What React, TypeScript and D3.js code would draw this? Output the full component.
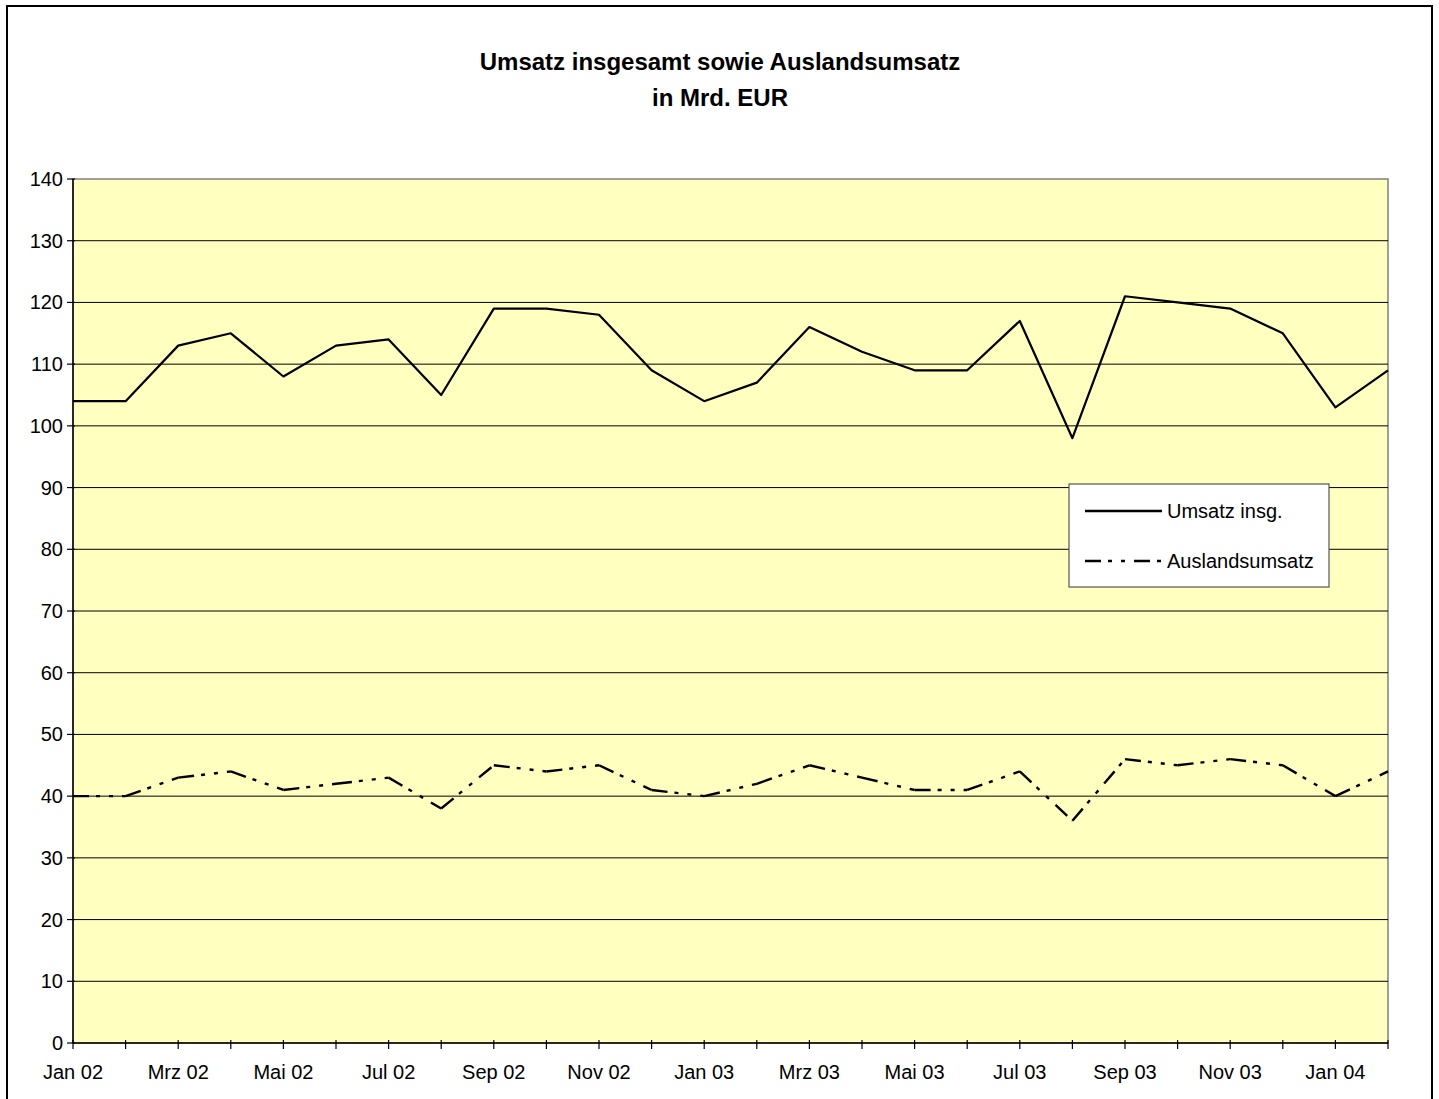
import { useMemo } from 'react';
import * as d3 from 'd3';

// Monthly values, Jan 02 .. Feb 04
const months = [
	'Jan 02', 'Feb 02', 'Mrz 02', 'Apr 02', 'Mai 02', 'Jun 02', 'Jul 02', 'Aug 02', 'Sep 02', 'Okt 02', 'Nov 02', 'Dez 02',
	'Jan 03', 'Feb 03', 'Mrz 03', 'Apr 03', 'Mai 03', 'Jun 03', 'Jul 03', 'Aug 03', 'Sep 03', 'Okt 03', 'Nov 03', 'Dez 03',
	'Jan 04', 'Feb 04',
];
const umsatzInsg = [104, 104, 113, 115, 108, 113, 114, 105, 119, 119, 118, 109, 104, 107, 116, 112, 109, 109, 117, 98, 121, 120, 119, 115, 103, 109];
const auslandsumsatz = [40, 40, 43, 44, 41, 42, 43, 38, 45, 44, 45, 41, 40, 42, 45, 43, 41, 41, 44, 36, 46, 45, 46, 45, 40, 44];
const yTicks = [0, 10, 20, 30, 40, 50, 60, 70, 80, 90, 100, 110, 120, 130, 140];

const titleLines = ['Umsatz insgesamt sowie Auslandsumsatz', 'in Mrd. EUR'];
const legendItems = [
	{ label: 'Umsatz insg.', dash: 'none' },
	{ label: 'Auslandsumsatz', dash: '16,7,4,9,4,9' },
];

const W = 1439;
const H = 1099;
const plot = { left: 73, right: 1388, top: 179, bottom: 1043 };
const FONT = '"Liberation Sans", Arial, sans-serif';
const DASH = '16,7,4,9,4,9';

export default function App() {
	const x = useMemo(
		() => d3.scalePoint<number>().domain(d3.range(months.length)).range([plot.left, plot.right]),
		[]
	);
	const y = useMemo(() => d3.scaleLinear().domain([0, 140]).range([plot.bottom, plot.top]), []);

	const line = d3
		.line<number>()
		.x((_, i) => x(i) as number)
		.y((d) => y(d));

	// dashed series is drawn segment by segment so the pattern restarts at each point
	const segLine = d3
		.line<[number, number]>()
		.x((d) => x(d[0]) as number)
		.y((d) => y(d[1]));
	const auslandSegments = d3.pairs(auslandsumsatz.map((v, i) => [i, v] as [number, number]));

	return (
		<svg
			width={W}
			height={H}
			style={{ position: 'absolute', left: 0, top: 0, background: '#fff' }}
			fontFamily={FONT}
		>
			<rect x={7} y={6} width={1425} height={H + 10} fill="#fff" stroke="#000" strokeWidth={2} />

			{titleLines.map((t, i) => (
				<text key={t} x={720} y={70 + i * 36} textAnchor="middle" fontSize={24} fontWeight="bold" fill="#000">
					{t}
				</text>
			))}

			<rect
				x={plot.left}
				y={plot.top}
				width={plot.right - plot.left}
				height={plot.bottom - plot.top}
				fill="#FFFFC0"
				stroke="#808080"
				strokeWidth={1.5}
			/>

			{yTicks.map((t) => (
				<g key={t}>
					{t > 0 && t < 140 && (
						<line x1={plot.left} x2={plot.right} y1={y(t)} y2={y(t)} stroke="#000" strokeWidth={1} />
					)}
					<line x1={plot.left - 6} x2={plot.left + 2} y1={y(t)} y2={y(t)} stroke="#000" strokeWidth={1.2} />
					<text x={plot.left - 10} y={y(t)} dy="0.35em" textAnchor="end" fontSize={20} fill="#000">
						{t}
					</text>
				</g>
			))}

			{months.map((m, i) => (
				<g key={m}>
					<line
						x1={x(i)}
						x2={x(i)}
						y1={plot.bottom - 3}
						y2={plot.bottom + 6}
						stroke="#000"
						strokeWidth={1.2}
					/>
					{i % 2 === 0 && (
						<text x={x(i)} y={1079} textAnchor="middle" fontSize={20} fill="#000">
							{m}
						</text>
					)}
				</g>
			))}

			<line x1={plot.left} x2={plot.left} y1={plot.top} y2={plot.bottom} stroke="#000" strokeWidth={1.5} />
			<line x1={plot.left} x2={plot.right} y1={plot.bottom} y2={plot.bottom} stroke="#000" strokeWidth={1.5} />

			<path d={line(umsatzInsg) ?? ''} fill="none" stroke="#000" strokeWidth={2.2} strokeLinejoin="round" />
			{auslandSegments.map((s, i) => (
				<path key={i} d={segLine(s) ?? ''} fill="none" stroke="#000" strokeWidth={2.4} strokeDasharray={DASH} />
			))}

			<rect x={1069} y={484} width={260} height={103} fill="#fff" stroke="#555" strokeWidth={1.2} />
			{legendItems.map((it, i) => (
				<g key={it.label} transform={`translate(1085, ${511 + i * 50})`}>
					<line x1={0} x2={77} y1={0} y2={0} stroke="#000" strokeWidth={2.4} strokeDasharray={it.dash} />
					<text x={82} y={0} dy="0.35em" fontSize={20} fill="#000">
						{it.label}
					</text>
				</g>
			))}
		</svg>
	);
}
